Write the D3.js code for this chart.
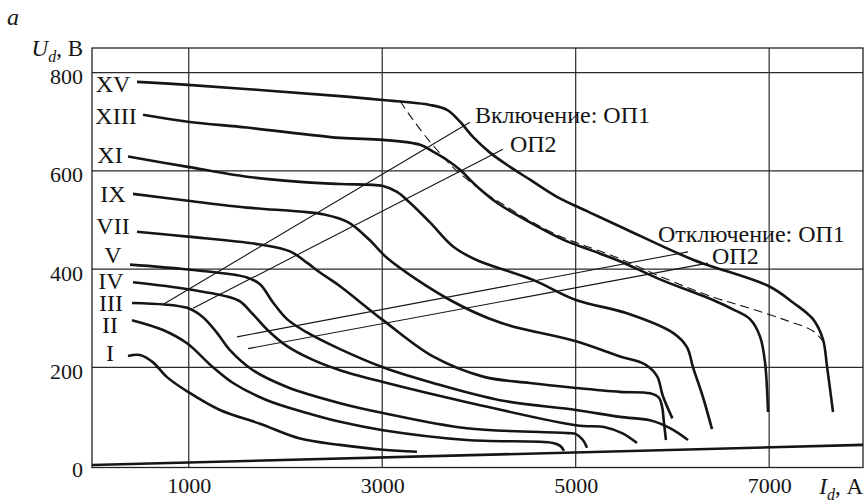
<!DOCTYPE html>
<html>
<head>
<meta charset="utf-8">
<script src="https://cdn.jsdelivr.net/npm/d3@7"></script>
<style>
  html, body { margin: 0; padding: 0; background: #fff; }
  svg { display: block; font-family: "Liberation Serif", "Times New Roman", serif; }
</style>
</head>
<body>
<svg id="chart" width="866" height="502"></svg>
<script>
// Axis ticks
const xTicks = [1000, 3000, 5000, 7000];
const yTicks = [0, 200, 400, 600, 800];
const yGrid = [200, 400, 600, 800];

// Load characteristics U_d(I_d), points as [I_d (A), U_d (V)]
const curveNames = ["XV", "XIII", "XI", "IX", "VII", "V", "IV", "III", "II", "I"];

const curveXV = [[465,781],[992,775],[2564,752],[3008,744],[3494,734],[3670,724],[3804,700],[3938,669],[4114,637],[4321,608],[4528,582],[4807,547],[5148,515],[5530,480],[6213,419],[6998,365],[7246,332],[7453,298],[7556,257],[7598,202],[7660,109]];
const curveXIII = [[527,714],[992,700],[1602,688],[2564,667],[3008,663],[3391,653],[3525,639],[3670,622],[3804,602],[3980,568],[4186,535],[4528,495],[4869,460],[5148,439],[5458,416],[5872,379],[6419,337],[6626,318],[6802,298],[6905,263],[6957,210],[6988,109]];
const curveXI = [[372,629],[992,608],[1602,588],[2119,578],[2564,573],[3008,569],[3153,557],[3287,535],[3494,495],[3732,446],[3969,419],[4559,378],[5003,337],[5530,310],[6006,270],[6150,241],[6213,200],[6316,139],[6409,74]];
const curveIX = [[424,553],[992,539],[1602,525],[2150,517],[2400,511],[2650,495],[2870,459],[3060,421],[3701,337],[4218,291],[5003,253],[5458,222],[5716,206],[5841,182],[5902,141],[6000,96]];
const curveVII = [[465,476],[992,466],[1737,450],[2047,436],[2222,413],[2357,393],[2564,365],[3008,296],[3525,222],[4042,181],[4525,168],[5003,158],[5458,150],[5768,147],[5860,138],[5895,118],[5910,92],[5933,52]];
const curveV = [[393,409],[992,399],[1602,383],[1737,369],[1871,332],[2016,298],[2222,271],[2564,237],[3008,200],[3525,168],[4218,133],[5003,113],[5458,99],[5768,92],[5975,76],[6161,52]];
const curveIV = [[424,373],[992,359],[1395,344],[1530,334],[1664,308],[1809,277],[2016,243],[2284,215],[2564,194],[3008,170],[3876,129],[5003,82],[5303,78],[5479,66],[5634,46]];
const curveIII = [[413,331],[982,321],[1147,302],[1292,270],[1426,235],[1664,194],[2016,160],[2564,127],[3008,107],[3876,76],[4920,66],[5003,64],[5075,52],[5117,36]];
const curveII = [[413,296],[734,276],[982,249],[1251,200],[1458,168],[1809,133],[2222,107],[2564,89],[3008,72],[3876,52],[4765,46],[4840,40],[4879,30]];
const curveI = [[372,223],[496,225],[631,210],[775,180],[992,150],[1323,113],[1737,85],[2150,55],[2564,42],[3008,32],[3359,28]];

// Straight characteristic near the current axis
const baseLine = [[0,1],[7970,42]];

// Boundary of the operating region (dashed)
const boundary = [[3184,742],[3318,704],[3494,659],[3628,629],[3732,607],[3907,578],[4083,552],[4248,532],[4528,498],[4869,464],[5148,444],[5458,421],[5872,385],[6419,343],[6802,320],[7184,295],[7453,274],[7556,253]];

// Switching lines: [start, end] as [I_d, U_d]
const switchOn1 = [[734,328],[3907,699]];
const switchOn2 = [[1044,320],[4248,644]];
const switchOff1 = [[1499,262],[6161,435]];
const switchOff2 = [[1613,238],[6368,412]];

const curves = [curveXV, curveXIII, curveXI, curveIX, curveVII, curveV, curveIV, curveIII, curveII, curveI];

// ---------- layout ----------
const svg = d3.select("#chart");
const x = d3.scaleLinear().domain([0, 7970]).range([92, 863]);
const y = d3.scaleLinear().domain([-4, 850]).range([467.5, 48]);
const ink = "#151515";

// grid
svg.append("g").selectAll("line").data(yGrid).join("line")
  .attr("x1", x(0)).attr("x2", x(7970))
  .attr("y1", d => y(d)).attr("y2", d => y(d))
  .attr("stroke", "#2a2a2a").attr("stroke-width", 1.2);
svg.append("g").selectAll("line").data(xTicks).join("line")
  .attr("x1", d => x(d)).attr("x2", d => x(d))
  .attr("y1", y(850)).attr("y2", y(-4))
  .attr("stroke", "#2a2a2a").attr("stroke-width", 1.2);

// frame
svg.append("rect")
  .attr("x", x(0)).attr("y", y(850))
  .attr("width", x(7970) - x(0)).attr("height", y(-4) - y(850))
  .attr("fill", "none").attr("stroke", "#222").attr("stroke-width", 1.3);

// axes (labels only)
const yAxis = svg.append("g").attr("transform", `translate(${x(0)},0)`)
  .call(d3.axisLeft(y).tickValues(yTicks).tickSize(0).tickPadding(9).tickFormat(d3.format("d")));
const xAxis = svg.append("g").attr("transform", `translate(0,${y(-4)})`)
  .call(d3.axisBottom(x).tickValues(xTicks).tickSize(0).tickPadding(10).tickFormat(d3.format("d")));
[yAxis, xAxis].forEach(g => {
  g.select(".domain").remove();
  g.selectAll("text").attr("font-family", "Liberation Serif, Times New Roman, serif")
    .attr("font-size", 22).attr("fill", ink);
});
yAxis.selectAll("text").attr("dy", "0.5em");

// characteristics
const line = d3.line().x(d => x(d[0])).y(d => y(d[1])).curve(d3.curveCatmullRom.alpha(0.5));

svg.append("g").selectAll("path").data(curves).join("path")
  .attr("d", line).attr("fill", "none").attr("stroke", ink)
  .attr("stroke-width", 2.6).attr("stroke-linejoin", "round").attr("stroke-linecap", "butt");

svg.append("path").datum(baseLine).attr("d", d3.line().x(d => x(d[0])).y(d => y(d[1])))
  .attr("fill", "none").attr("stroke", ink).attr("stroke-width", 2.6);

svg.append("path").datum(boundary).attr("d", line)
  .attr("fill", "none").attr("stroke", ink).attr("stroke-width", 1.1)
  .attr("stroke-dasharray", "9,5");

const straight = d3.line().x(d => x(d[0])).y(d => y(d[1]));
svg.append("g").selectAll("path").data([switchOn1, switchOn2, switchOff1, switchOff2]).join("path")
  .attr("d", straight).attr("fill", "none").attr("stroke", ink).attr("stroke-width", 1.1);

// curve labels (Roman numerals) left of each curve start: [centre x, vertical nudge]
const labelPlace = { XV: [113, 2], XIII: [116, 1], XI: [110, -1], IX: [113, 0], VII: [113, -6],
                     V: [113, -10], IV: [111, -1], III: [111, 0], II: [110, 5], I: [110, -3] };
svg.append("g").selectAll("text").data(curveNames).join("text")
  .attr("x", n => labelPlace[n][0])
  .attr("y", (n, i) => y(curves[i][0][1]) + labelPlace[n][1])
  .attr("dy", "0.33em")
  .attr("text-anchor", "middle")
  .attr("font-size", 24).attr("fill", ink)
  .text(n => n);

// annotations
const note = (txt, px, py) => svg.append("text").attr("x", px).attr("y", py)
  .attr("font-size", 24).attr("fill", ink).text(txt);
note("Включение: ОП1", x(switchOn1[1][0]) + 5, y(switchOn1[1][1]) + 1);
note("ОП2", x(switchOn2[1][0]) + 7, y(switchOn2[1][1]) + 3);
note("Отключение: ОП1", x(switchOff1[1][0]) - 30, y(switchOff1[1][1]) - 10);
note("ОП2", x(switchOff2[1][0]) + 4, y(switchOff2[1][1]) + 1);

// axis titles
svg.append("text").attr("x", 7).attr("y", 25).attr("font-size", 24)
  .attr("font-style", "italic").attr("fill", ink).text("a");

const ut = svg.append("text").attr("x", 83).attr("y", 56).attr("text-anchor", "end")
  .attr("font-size", 23).attr("fill", ink);
ut.append("tspan").attr("font-style", "italic").text("U");
ut.append("tspan").attr("font-style", "italic").attr("font-size", 16).attr("dy", 6).text("d");
ut.append("tspan").attr("dy", -6).text(", В");

const it = svg.append("text").attr("x", 863).attr("y", 494).attr("text-anchor", "end")
  .attr("font-size", 23).attr("fill", ink);
it.append("tspan").attr("font-style", "italic").text("I");
it.append("tspan").attr("font-style", "italic").attr("font-size", 16).attr("dy", 6).text("d");
it.append("tspan").attr("dy", -6).text(", А");
</script>
</body>
</html>
